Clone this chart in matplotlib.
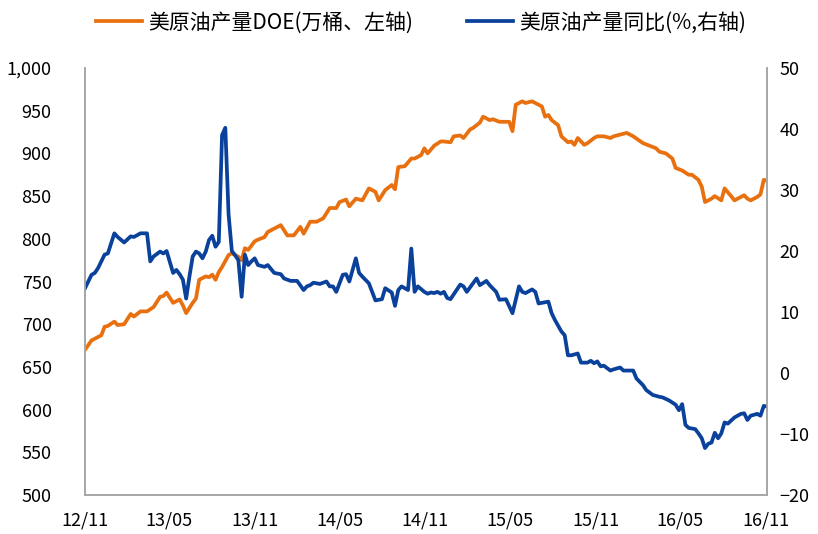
import matplotlib
matplotlib.use("Agg")
import matplotlib.pyplot as plt
import matplotlib.ticker as mticker
import numpy as np

plt.rcParams['font.family'] = ['Noto Sans CJK SC', 'DejaVu Sans']

# week index since 2012-11-01 and values
prod_weeks = [0, 2, 3, 5, 6, 7, 9, 10, 12, 14, 15, 17, 19, 21, 23, 24, 25, 27, 29, 30,
              31, 33, 34, 35, 37, 38, 39, 40, 41, 42, 44, 45, 47, 48, 49, 50, 52, 53, 55, 56,
              58, 60, 62, 64, 66, 67, 69, 71, 73, 75, 77, 78, 80, 81, 83, 85, 87, 89, 90, 92,
              94, 95, 96, 98, 100, 101, 103, 104, 105, 107, 109, 110, 112, 113, 115, 116, 118, 119, 121, 122,
              124, 125, 127, 128, 130, 131, 132, 134, 135, 137, 138, 140, 141, 142, 143, 145, 146, 148, 149, 150,
              151, 153, 154, 156, 157, 159, 161, 162, 164, 166, 168, 171, 173, 175, 176, 178, 180, 181, 183, 185,
              186, 188, 189, 190, 192, 193, 195, 196, 198, 199, 202, 203, 204, 206, 207, 208, 209]
prod_values = [670, 681, 683, 687, 697, 698, 703, 699, 700, 712, 709, 715, 715, 720, 732, 733, 737, 725, 729, 722,
               713, 725, 730, 752, 756, 755, 758, 752, 761, 767, 781, 783, 779, 775, 789, 787, 797, 799, 802, 808,
               812, 816, 804, 804, 814, 806, 820, 820, 824, 836, 836, 843, 846, 838, 847, 845, 859, 855, 845, 857,
               863, 858, 884, 885, 894, 894, 898, 906, 900, 909, 914, 914, 913, 920, 921, 918, 928, 930, 936, 943,
               939, 940, 937, 937, 937, 926, 957, 961, 959, 961, 959, 955, 943, 945, 939, 933, 920, 913, 914, 910,
               918, 910, 912, 918, 920, 920, 918, 920, 922, 924, 920, 912, 909, 906, 902, 900, 894, 883, 880, 875,
               875, 869, 861, 843, 847, 850, 845, 859, 850, 845, 851, 847, 845, 849, 852, 869, 868]

yoy_weeks = [0, 2, 3, 4, 6, 7, 9, 10, 12, 14, 15, 17, 19, 20, 21, 23, 24, 25, 27, 28,
             29, 30, 31, 32, 33, 34, 35, 36, 37, 38, 39, 40, 41, 42, 43, 44, 45, 46, 47, 48,
             49, 50, 51, 52, 53, 55, 56, 58, 60, 61, 63, 65, 67, 68, 69, 70, 72, 74, 75, 76,
             77, 79, 80, 81, 83, 84, 85, 87, 88, 89, 91, 92, 94, 95, 96, 97, 99, 100, 101, 102,
             104, 105, 106, 107, 108, 109, 110, 111, 112, 115, 116, 117, 120, 121, 123, 124, 126, 127, 129, 131,
             133, 134, 135, 137, 138, 139, 141, 142, 143, 144, 146, 147, 148, 149, 151, 152, 154, 155, 156, 157,
             158, 159, 161, 162, 164, 165, 167, 168, 169, 171, 172, 174, 176, 177, 179, 181, 182, 183, 184, 185,
             187, 188, 189, 190, 191, 192, 193, 194, 195, 196, 197, 199, 201, 202, 203, 204, 206, 207, 208, 209]
yoy_values = [13.9, 16.1, 16.4, 17.2, 19.4, 19.6, 22.9, 22.3, 21.4, 22.4, 22.3, 22.9, 22.9, 18.3, 19.1, 19.9, 19.6, 20.0, 16.4, 16.9,
              16.2, 15.3, 12.2, 15.8, 19.1, 19.9, 19.6, 18.8, 19.9, 21.8, 22.5, 20.7, 21.5, 39.0, 40.2, 26.0, 20.0, 19.3, 18.5, 12.5,
              19.4, 17.7, 18.3, 18.8, 17.7, 17.4, 17.7, 16.4, 16.2, 15.5, 15.1, 15.1, 13.6, 14.2, 14.4, 14.8, 14.6, 15.0, 14.2, 14.2,
              13.3, 16.1, 16.2, 15.0, 18.8, 16.4, 15.8, 14.7, 13.3, 11.9, 12.1, 13.9, 13.2, 11.0, 13.6, 14.2, 13.6, 20.4, 13.3, 14.2,
              13.3, 13.0, 13.2, 13.1, 13.3, 13.0, 13.3, 12.3, 12.1, 14.5, 14.2, 13.3, 15.5, 14.4, 15.1, 14.4, 13.3, 12.0, 12.1, 9.8,
              14.2, 13.3, 13.1, 13.7, 13.3, 11.4, 11.6, 11.7, 9.8, 8.7, 6.8, 6.2, 2.9, 2.9, 3.2, 1.7, 1.7, 2.0, 1.6, 1.9,
              1.1, 1.2, 0.4, 0.6, 0.9, 0.4, 0.4, 0.4, -0.9, -2.0, -2.8, -3.6, -3.9, -4.0, -4.5, -5.2, -6.1, -5.1, -8.5, -9.0,
              -9.2, -9.9, -10.7, -12.3, -11.6, -11.4, -9.8, -10.7, -9.9, -8.1, -8.3, -7.3, -6.7, -6.6, -7.7, -7.0, -6.7, -7.0, -5.4, -5.5]

tick_labels = ['12/11', '13/05', '13/11', '14/05', '14/11', '15/05', '15/11', '16/05', '16/11']
tick_days = [0, 181, 365, 546, 730, 911, 1095, 1277, 1461]

label_prod = '美原油产量DOE(万桶、左轴)'
label_yoy = '美原油产量同比(%,右轴)'

c_orange = '#E8700E'
c_blue = '#0A419A'
spine_c = '#A6A6A6'

fig = plt.figure(figsize=(8.18, 5.34), dpi=100)
ax = fig.add_axes([85/818, 39/534, (767-85)/818, (495-68)/534])
ax2 = ax.twinx()

l1, = ax.plot(prod_weeks, prod_values, color=c_orange, lw=2.7, solid_joinstyle='round')
l2, = ax2.plot(yoy_weeks, yoy_values, color=c_blue, lw=2.7, solid_joinstyle='round')

ax.set_xlim(0, 209)
ax.set_ylim(500, 1000)
ax2.set_ylim(-20, 50)
ax.set_yticks(np.arange(500, 1001, 50))
ax2.set_yticks(np.arange(-20, 51, 10))
ax.yaxis.set_major_formatter(mticker.FuncFormatter(lambda v, p: f'{int(v):,}'))
ax.set_xticks([d / 7 for d in tick_days])
ax.set_xticklabels(tick_labels)

for a in (ax, ax2):
    a.spines['top'].set_visible(False)
    for s in ('left', 'right', 'bottom'):
        a.spines[s].set_color(spine_c)
        a.spines[s].set_linewidth(1.2)
    a.tick_params(length=0, labelsize=13, colors='#000000')
ax.tick_params(axis='y', pad=24)
ax2.tick_params(axis='y', pad=9)
ax.tick_params(axis='x', pad=12)

fig.legend([l1, l2], [label_prod, label_yoy], loc='center', bbox_to_anchor=(0.515, 0.958),
           ncol=2, frameon=False, fontsize=15, handlelength=2.2, columnspacing=2.6,
           handletextpad=0.3)

fig.savefig('out.png', dpi=100)
